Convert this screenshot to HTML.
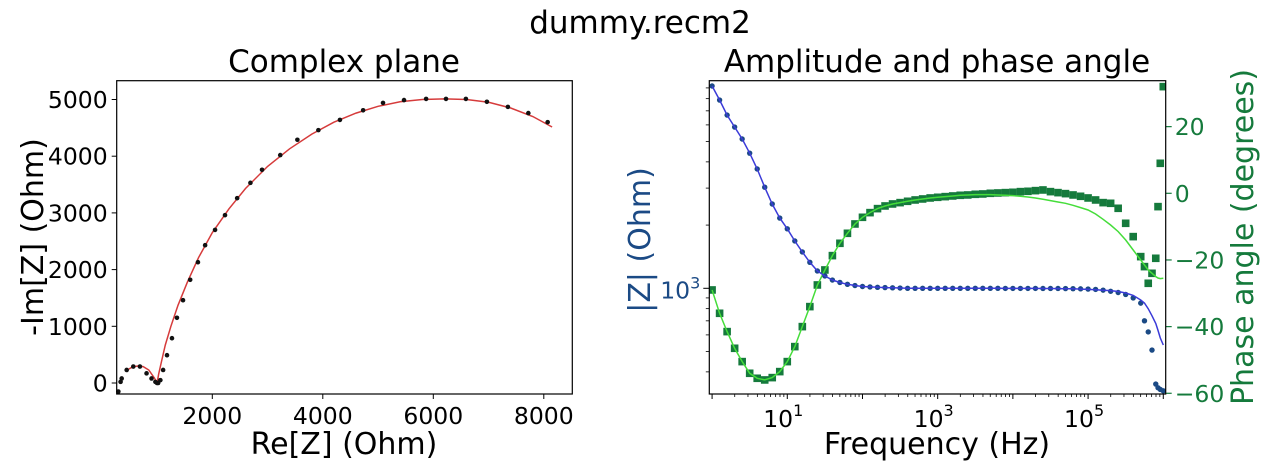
<!DOCTYPE html>
<html><head><meta charset="utf-8"><style>
html,body{margin:0;padding:0;background:#fff;}
svg{display:block;font-family:"DejaVu Sans","Liberation Sans",sans-serif;}
</style></head><body>
<svg id="chart" width="1280" height="464" viewBox="0 0 1280 464" xmlns="http://www.w3.org/2000/svg">
<text x="640" y="33" font-size="31" text-anchor="middle">dummy.recm2</text>
<text x="344" y="72" font-size="31" text-anchor="middle">Complex plane</text>
<text x="937" y="72" font-size="31" text-anchor="middle">Amplitude and phase angle</text>
<g id="left"></g>
<g id="right"></g>
<text x="344" y="454" font-size="30" text-anchor="middle">Re[Z] (Ohm)</text>
<text transform="translate(43,237) rotate(-90)" font-size="30" text-anchor="middle">-Im[Z] (Ohm)</text>
<text x="937" y="454" font-size="30" text-anchor="middle">Frequency (Hz)</text>
<text transform="translate(650,240) rotate(-90)" font-size="30" text-anchor="middle" fill="#1b4a85">|Z| (Ohm)</text>
<text transform="translate(1253,237) rotate(-90)" font-size="30" text-anchor="middle" fill="#157a3c">Phase angle (degrees)</text>
</svg>
<script>
// ---- Nyquist data ----
const nyqRe = [8070,7720,7350,6970,6590,6230,5870,5470,5090,4730,4310,3920,3540,3230,2900,2690,2450,2230,2050,1870,1740,1600,1470,1360,1270,1180,1110,1060,1020,1000,970,900,810,690,570,450,360,340,300];
const nyqNegIm = [4600,4760,4870,4960,5010,5010,5010,4990,4940,4810,4640,4460,4290,4020,3760,3530,3260,2960,2700,2430,2130,1820,1460,1150,790,490,230,50,0,0,20,80,170,290,290,230,80,20,-150];
const fitRe = [8150,7800,7400,7000,6600,6200,5800,5400,5000,4600,4200,3800,3400,3000,2600,2300,2000,1750,1550,1380,1250,1150,1080,1030,1000,950,850,750,650,550,480];
const fitNegIm = [4515,4700,4850,4950,5000,5010,5000,4960,4880,4760,4600,4390,4130,3820,3430,3070,2650,2210,1780,1370,1000,670,380,160,0,90,230,290,300,280,240];
const reTicks = [2000,4000,6000,8000];
const imTicks = [0,1000,2000,3000,4000,5000];

// ---- Bode data ----
const logFreq = [0,0.1,0.2,0.3,0.4,0.5,0.6,0.7,0.8,0.9,1.0,1.1,1.2,1.3,1.4,1.5,1.6,1.7,1.8,1.9,2.0,2.1,2.2,2.3,2.4,2.5,2.6,2.7,2.8,2.9,3.0,3.1,3.2,3.3,3.4,3.5,3.6,3.7,3.8,3.9,4.0,4.1,4.2,4.3,4.4,4.5,4.6,4.7,4.8,4.9,5.0,5.1,5.2,5.3,5.4,5.5,5.6,5.7,5.75,5.8,5.85,5.9,5.93,5.96,6.0];
const modulus = [9190,7880,6680,5860,5140,4400,3700,3030,2520,2160,1920,1680,1490,1330,1210,1145,1095,1066,1045,1031,1020,1015,1011,1008,1005,1003,1000,1000,1000,1000,1000,1000,1000,1000,1000,1000,1000,1000,1000,999,999,999,999,999,998,998,998,997,996,994,992,988,980,968,955,935,900,850,700,620,508,350,336,330,325];
const phase = [-29,-36,-41.5,-46.5,-50.5,-54,-55.5,-56,-55.3,-53.5,-50.5,-46,-40,-34,-27.5,-23,-18.7,-15,-12,-9.2,-7.2,-5.8,-4.6,-3.8,-3.2,-2.8,-2.4,-2.0,-1.7,-1.4,-1.2,-1.0,-0.8,-0.6,-0.5,-0.3,-0.2,0,0.1,0.2,0.3,0.5,0.6,0.8,1.0,0.5,0.2,-0.1,-0.5,-0.9,-1.4,-2,-2.8,-3,-4.5,-9,-13,-19,-22,-27,-24,-19.5,-4,9,32];
const modulusFit = [9190,7880,6680,5860,5140,4400,3700,3030,2520,2160,1920,1680,1490,1330,1210,1145,1095,1066,1045,1031,1020,1015,1011,1008,1005,1003,1000,1000,1000,1000,1000,1000,1000,1000,1000,1000,1000,1000,1000,999,999,999,999,999,998,998,997,996,994,991,988,984,979,975,965,950,925,880,850,800,740,680,630,580,537];
const phaseFit = [-29,-36,-41.5,-46.5,-50.5,-54,-55.5,-56,-55.3,-53.5,-50.5,-46,-40,-34,-27.5,-23,-18.7,-15,-12,-9.2,-7.2,-5.8,-4.6,-3.8,-3.2,-2.8,-2.4,-2.0,-1.7,-1.4,-1.2,-1.0,-0.8,-0.6,-0.5,-0.4,-0.4,-0.4,-0.5,-0.6,-0.7,-0.9,-1.1,-1.4,-1.8,-2.2,-2.6,-3.0,-3.6,-4.3,-5.0,-6.2,-7.8,-9.5,-11.5,-14,-17,-20,-21.5,-23,-24,-25,-25.4,-25.6,-25.5];
const freqTickExps = [1,3,5];
const phaseTicks = [20,0,-20,-40,-60];

const NS = "http://www.w3.org/2000/svg";
function mk(parent, tag, attrs){ const e=document.createElementNS(NS,tag); for(const k in attrs) e.setAttribute(k,attrs[k]); parent.appendChild(e); return e; }

// ---- Left axes ----
const L = document.getElementById('left');
const lx0=116.7, lx1=572.3, ly0=80.7, ly1=394;
const xRe = v => 212.3 + (v-2000)*0.05525;
const yIm = v => 383 - v*0.0567;
imTicks.forEach(t=>{
  const y=yIm(t);
  const tk=mk(L,'line',{x1:lx0-5,x2:lx0,y1:y,y2:y,stroke:'#000','stroke-width':1});
  
  
  const lb=mk(L,'text',{x:lx0-9,y:y+8.5,'font-size':23.5,'text-anchor':'end'}); lb.textContent=t;
  
  
});
reTicks.forEach(t=>{
  const x=xRe(t);
  const tk=mk(L,'line',{x1:x,x2:x,y1:ly1,y2:ly1+5,stroke:'#000','stroke-width':1});
  
  
  const lb=mk(L,'text',{x:x,y:ly1+30,'font-size':23.5,'text-anchor':'middle'}); lb.textContent=t;
  
  
});
const fitPath = fitRe.map((r,i)=>(i?'L':'M')+xRe(r).toFixed(1)+','+yIm(fitNegIm[i]).toFixed(1)).join('');
const fl=mk(L,'path',{d:fitPath,fill:'none',stroke:'#d63b3b','stroke-width':1.5});


nyqRe.forEach((r,i)=>{
  const c=mk(L,'circle',{cx:xRe(r),cy:yIm(nyqNegIm[i]),r:2.3,fill:'#111'});
  
  
});
const lf=mk(L,'rect',{x:lx0,y:ly0,width:lx1-lx0,height:ly1-ly0,fill:'none',stroke:'#000','stroke-width':1.2});



// ---- Right axes ----
const R = document.getElementById('right');
const rx0=709.3, rx1=1165.7, ry0=80.7, ry1=394;
const xF = lf_ => rx0 + (lf_ + 0.037)*75.2;
const yM = m => 288.3 - (Math.log10(m)-3)*210;
const yP = p => 193.3 - p*3.333;
const clip=mk(R,'clipPath',{id:'rc'}); mk(clip,'rect',{x:rx0,y:ry0,width:rx1-rx0,height:ry1-ry0});
[300,400,500,600,700,800,900,2000,3000,4000,5000,6000,7000,8000,9000].forEach(m=>{
  const y=yM(m); if(y<ry0||y>ry1) return;
  const tk=mk(R,'line',{x1:rx0-3.5,x2:rx0,y1:y,y2:y,stroke:'#000','stroke-width':0.8});
  
  
});
const mt=mk(R,'line',{x1:rx0-6,x2:rx0,y1:yM(1000),y2:yM(1000),stroke:'#000','stroke-width':1});


const ml=mk(R,'text',{x:rx0-9,y:yM(1000)+10,'font-size':23.5,'text-anchor':'end',fill:'#1b4a85'});


ml.innerHTML='10<tspan dy="-10" font-size="16">3</tspan>';
for(let d=0; d<=6; d++){ for(let k=1;k<10;k++){ const lv=d+Math.log10(k); const x=xF(lv); if(x<rx0||x>rx1) continue;
  const major=(k===1);
  const tk=mk(R,'line',{x1:x,x2:x,y1:ry1,y2:ry1+(major?5:3),stroke:'#000','stroke-width':major?1:0.8});
  
  
}}
freqTickExps.forEach(e=>{
  const lb=mk(R,'text',{x:xF(e)-4,y:ry1+33,'font-size':23.5,'text-anchor':'middle'});
  
  
  lb.innerHTML='10<tspan dy="-11" font-size="16">'+e+'</tspan>';
});
phaseTicks.forEach(p=>{
  const y=yP(p);
  const tk=mk(R,'line',{x1:rx1,x2:rx1+6,y1:y,y2:y,stroke:'#157a3c','stroke-width':1.2});
  
  
  const lb=mk(R,'text',{x:rx1+9,y:y+8.5,'font-size':23.5,fill:'#157a3c'}); lb.textContent=(p<0?'\u2212'+(-p):String(p));
  
  
});
const g=mk(R,'g',{'clip-path':'url(#rc)'});
logFreq.forEach((f,i)=>{
  const s=mk(g,'rect',{x:xF(f)-3.8,y:yP(phase[i])-3.8,width:7.6,height:7.6,fill:'#157a3c'});
  
  
});
const pf=mk(g,'path',{d:logFreq.map((f,i)=>(i?'L':'M')+xF(f).toFixed(1)+','+yP(phaseFit[i]).toFixed(1)).join(''),fill:'none',stroke:'#45dd3a','stroke-width':1.5});


logFreq.forEach((f,i)=>{
  const c=mk(g,'circle',{cx:xF(f),cy:yM(modulus[i]),r:2.7,fill:'#1b4a85'});
  
  
});
const mf=mk(g,'path',{d:logFreq.map((f,i)=>(i?'L':'M')+xF(f).toFixed(1)+','+yM(modulusFit[i]).toFixed(1)).join(''),fill:'none',stroke:'#3b3bd8','stroke-width':1.5});


const rf=mk(R,'rect',{x:rx0,y:ry0,width:rx1-rx0,height:ry1-ry0,fill:'none',stroke:'#000','stroke-width':1.2});


</script>
</body></html>
